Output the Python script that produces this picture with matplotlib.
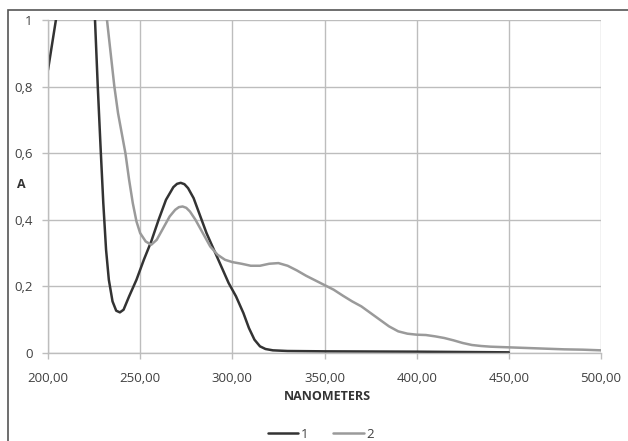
import matplotlib
matplotlib.use("Agg")
import matplotlib.pyplot as plt
from matplotlib.patches import Rectangle

plt.rcParams['font.family'] = ['Open Sans', 'DejaVu Sans']

nm1 = [200, 202, 204, 206, 210, 220, 224, 225.5, 227, 228.5, 230, 231.5, 233, 235, 237, 239,
       241, 244, 248, 252, 256, 260, 264, 268, 270, 272, 274, 276, 279, 282, 286, 290, 294, 298,
       302, 306, 309, 312, 315, 318, 322, 330, 350, 400, 450]
a1 = [0.85, 0.92, 0.99, 1.06, 1.2, 1.2, 1.05, 1.0, 0.80, 0.62, 0.45, 0.31, 0.22, 0.155, 0.127, 0.122,
      0.13, 0.17, 0.22, 0.28, 0.335, 0.40, 0.46, 0.498, 0.508, 0.511, 0.507, 0.495, 0.465, 0.42,
      0.36, 0.31, 0.26, 0.21, 0.17, 0.12, 0.075, 0.04, 0.02, 0.012, 0.008, 0.006, 0.005, 0.004,
      0.002]

nm2 = [231, 232, 234, 236, 238, 240, 242, 244, 246, 248, 250, 253, 256, 259, 262, 266, 269, 271,
       273, 275, 277, 280, 284, 288, 292, 296, 300, 305, 310, 315, 320, 325, 330, 335, 340, 345,
       350, 355, 360, 365, 370, 375, 380, 385, 390, 395, 400, 405, 410, 415, 420, 425, 430, 435,
       440, 450, 460, 470, 480, 490, 500]
a2 = [1.03, 1.0, 0.90, 0.80, 0.72, 0.66, 0.60, 0.52, 0.45, 0.395, 0.36, 0.335, 0.325, 0.34, 0.37,
      0.41, 0.43, 0.438, 0.44, 0.436, 0.425, 0.40, 0.36, 0.32, 0.295, 0.28, 0.273, 0.268, 0.262,
      0.262, 0.268, 0.27, 0.262, 0.248, 0.232, 0.218, 0.204, 0.19, 0.172, 0.155, 0.14, 0.12, 0.10,
      0.08, 0.065, 0.058, 0.055, 0.054, 0.05, 0.045, 0.038, 0.03, 0.024, 0.021, 0.019, 0.017,
      0.015, 0.013, 0.011, 0.01, 0.008]

xticks = [200, 250, 300, 350, 400, 450, 500]
xticklabels = ['200,00', '250,00', '300,00', '350,00', '400,00', '450,00', '500,00']
yticks = [0, 0.2, 0.4, 0.6, 0.8, 1]
yticklabels = ['0', '0,2', '0,4', '0,6', '0,8', '1']
labels = ['1', '2']

W, H = 628, 441
fig = plt.figure(figsize=(W / 100, H / 100), dpi=100)
ax = fig.add_axes([48 / W, 1 - 353 / H, (601 - 48) / W, (353 - 20) / H])

grid_c = '#bdbdbd'
l1, = ax.plot(nm1, a1, color='#333333', lw=1.8, label=labels[0], solid_capstyle='round',
              solid_joinstyle='round')
l2, = ax.plot(nm2, a2, color='#9a9a9a', lw=1.8, label=labels[1], solid_capstyle='round',
              solid_joinstyle='round')

ax.set_xlim(200, 500)
ax.set_ylim(0, 1)
ax.set_xticks(xticks)
ax.set_xticklabels(xticklabels)
ax.set_yticks(yticks)
ax.set_yticklabels(yticklabels)
ax.grid(True, color=grid_c, lw=1)
ax.set_axisbelow(True)
for s in ['top', 'right']:
    ax.spines[s].set_visible(False)
for s in ['left', 'bottom']:
    ax.spines[s].set_color(grid_c)
    ax.spines[s].set_linewidth(1)
ax.tick_params(axis='both', colors=grid_c, length=4, width=1, direction='out',
               labelcolor='#404040', labelsize=9.5)
ax.tick_params(axis='x', pad=10)
ax.tick_params(axis='y', pad=7)

fig.text(327 / W, 1 - 397 / H, 'NANOMETERS', fontsize=9, fontweight='bold', color='#333333',
         ha='center', va='center')
fig.text(21 / W, 1 - 185 / H, 'A', fontsize=9, fontweight='bold', color='#333333',
         ha='center', va='center')

fig.legend(handles=[l1, l2], loc='center', bbox_to_anchor=(321 / W, 1 - 434 / H), ncol=2,
           frameon=False, fontsize=9.5, handlelength=2.3, handletextpad=0.2, columnspacing=1.9,
           labelcolor='#404040', borderpad=0)

fig.patches.append(Rectangle((8 / W, -0.1), 1.0, (H - 10) / H + 0.1, transform=fig.transFigure,
                             fill=False, edgecolor='#555555', lw=1.2))

fig.savefig('out.png', dpi=100)
